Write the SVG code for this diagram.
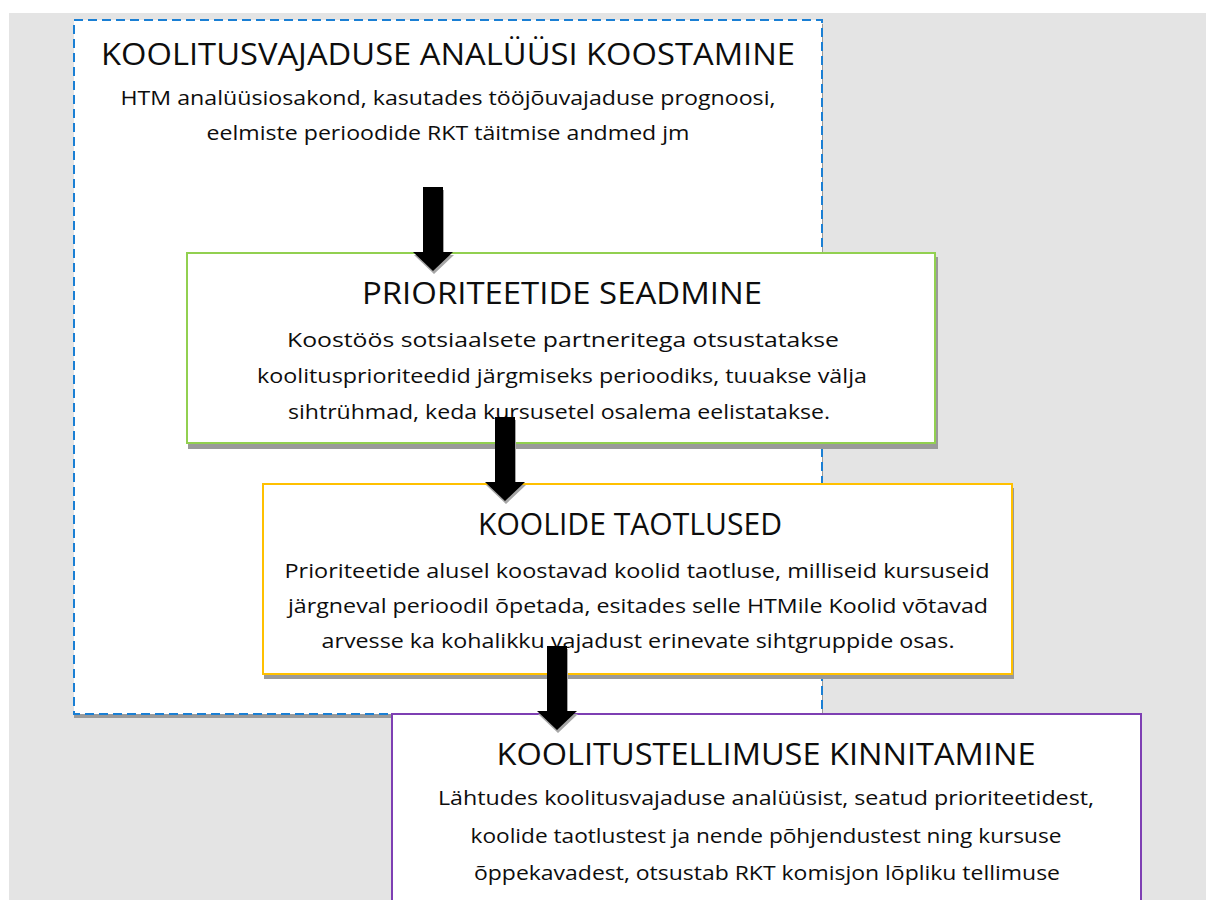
<svg xmlns="http://www.w3.org/2000/svg" width="1206" height="900" viewBox="0 0 1206 900">
  <defs>
    <style>
      .t { font-family: "Open Sans", "Liberation Sans", sans-serif; fill: #0d0d0d; text-anchor: middle; }
      .h { font-size: 31px; }
      .b { font-size: 20.5px; }
      .box { fill: #ffffff; stroke-width: 2; }
      .sh { fill: #9a9a9a; }
      .arrow { fill: #000000; }
      .ash { fill: #a6a6a6; }
    </style>
    <path id="arw" d="M -10 0 L 10 0 L 10 65 L 20 65 L 0 84 L -20 65 L -10 65 Z"/>
  </defs>
  <rect x="0" y="0" width="1206" height="900" fill="#ffffff"/>
  <rect x="9" y="13" width="1197" height="887" fill="#e4e4e4"/>

  <g id="node-analyys">
    <rect class="sh" x="74" y="24" width="749" height="694"/>
    <rect class="box" x="74" y="20" width="748" height="694" stroke="#1a7fd4" stroke-dasharray="9 5"/>
    <text class="t h" x="448" y="65" textLength="694" lengthAdjust="spacingAndGlyphs">KOOLITUSVAJADUSE ANALÜÜSI KOOSTAMINE</text>
    <text class="t b" x="448" y="105" textLength="655" lengthAdjust="spacingAndGlyphs">HTM analüüsiosakond, kasutades tööjõuvajaduse prognoosi,</text>
    <text class="t b" x="448" y="140" textLength="483" lengthAdjust="spacingAndGlyphs">eelmiste perioodide RKT täitmise andmed jm</text>
  </g>

  <g id="node-prioriteedid">
    <rect class="sh" x="188" y="257" width="750" height="192"/>
    <rect class="box" x="187" y="253" width="748" height="190" stroke="#92d050"/>
    <text class="t h" x="562" y="304" textLength="400" lengthAdjust="spacingAndGlyphs">PRIORITEETIDE SEADMINE</text>
    <text class="t b" x="563" y="347" textLength="552" lengthAdjust="spacingAndGlyphs">Koostöös sotsiaalsete partneritega otsustatakse</text>
    <text class="t b" x="562" y="383" textLength="610" lengthAdjust="spacingAndGlyphs">koolitusprioriteedid järgmiseks perioodiks, tuuakse välja</text>
    <text class="t b" x="559" y="419" textLength="542" lengthAdjust="spacingAndGlyphs">sihtrühmad, keda kursusetel osalema eelistatakse.</text>
  </g>

  <g id="node-taotlused">
    <rect class="sh" x="264" y="488" width="750" height="191"/>
    <rect class="box" x="263" y="484" width="749" height="190" stroke="#ffc000"/>
    <text class="t h" x="630" y="535" textLength="304" lengthAdjust="spacingAndGlyphs">KOOLIDE TAOTLUSED</text>
    <text class="t b" x="637" y="578" textLength="705" lengthAdjust="spacingAndGlyphs">Prioriteetide alusel koostavad koolid taotluse, milliseid kursuseid</text>
    <text class="t b" x="638" y="613" textLength="700" lengthAdjust="spacingAndGlyphs">järgneval perioodil õpetada, esitades selle HTMile Koolid võtavad</text>
    <text class="t b" x="638" y="648" textLength="633" lengthAdjust="spacingAndGlyphs">arvesse ka kohalikku vajadust erinevate sihtgruppide osas.</text>
  </g>

  <g id="node-kinnitamine">
    <rect class="box" x="392" y="714" width="749" height="200" stroke="#7e3fb3"/>
    <text class="t h" x="766" y="765" textLength="539" lengthAdjust="spacingAndGlyphs">KOOLITUSTELLIMUSE KINNITAMINE</text>
    <text class="t b" x="766" y="805" textLength="656" lengthAdjust="spacingAndGlyphs">Lähtudes koolitusvajaduse analüüsist, seatud prioriteetidest,</text>
    <text class="t b" x="766" y="843" textLength="591" lengthAdjust="spacingAndGlyphs">koolide taotlustest ja nende põhjendustest ning kursuse</text>
    <text class="t b" x="767" y="880" textLength="586" lengthAdjust="spacingAndGlyphs">õppekavadest, otsustab RKT komisjon lõpliku tellimuse</text>
  </g>

  <g id="connectors">
    <use href="#arw" class="ash" transform="translate(434 190)"/>
    <use href="#arw" class="arrow" transform="translate(433 187)"/>
    <use href="#arw" class="ash" transform="translate(506 420)"/>
    <use href="#arw" class="arrow" transform="translate(505 417)"/>
    <use href="#arw" class="ash" transform="translate(558 649)"/>
    <use href="#arw" class="arrow" transform="translate(557 646)"/>
  </g>
</svg>
